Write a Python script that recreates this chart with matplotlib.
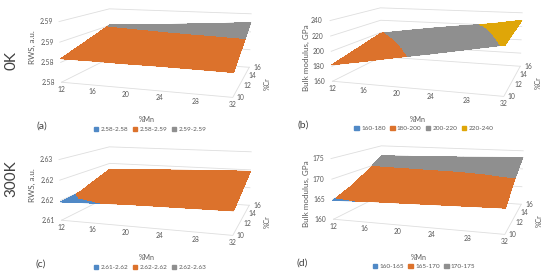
import matplotlib
matplotlib.use("Agg")
import matplotlib.pyplot as plt
from matplotlib.patches import Patch
from mpl_toolkits.mplot3d import proj3d
from mpl_toolkits.mplot3d.art3d import Poly3DCollection

plt.rcParams["font.family"] = ["Lato", "DejaVu Sans"]

W, H = 550, 277
BLUE, ORANGE, GRAY, YELLOW = "#5089c6", "#dc722c", "#8f8f8f", "#dfa608"
TXT = "#595959"
GRID = "#dedede"

MN = [12, 16, 20, 24, 28, 32]
CR = [10, 12, 14, 16]

# one row per %Cr, one column per %Mn
RWS_0K = [
    [2.5809, 2.5809, 2.5808, 2.5808, 2.5807, 2.5806],
    [2.5823, 2.5824, 2.5825, 2.5826, 2.5827, 2.5829],
    [2.5837, 2.5840, 2.5843, 2.5846, 2.5849, 2.5853],
    [2.5852, 2.5856, 2.5860, 2.5865, 2.5870, 2.5876],
]
BULK_0K = [
    [182.0, 189.5, 197.5, 205.0, 213.0, 221.0],
    [187.7, 195.0, 202.2, 209.0, 216.0, 223.7],
    [193.3, 200.2, 206.8, 213.0, 219.0, 226.3],
    [199.0, 205.5, 211.5, 217.0, 222.0, 229.0],
]
RWS_300K = [
    [2.6196, 2.6199, 2.6202, 2.6203, 2.6204, 2.6205],
    [2.6201, 2.6207, 2.6212, 2.6214, 2.6216, 2.6218],
    [2.6217, 2.6220, 2.6224, 2.6228, 2.6230, 2.6232],
    [2.6232, 2.6235, 2.6238, 2.6241, 2.6244, 2.6246],
]
BULK_300K = [
    [164.7, 165.1, 165.3, 165.5, 165.7, 165.9],
    [166.5, 166.8, 167.2, 167.6, 168.1, 168.8],
    [169.0, 169.3, 169.6, 169.8, 170.3, 171.2],
    [172.0, 172.2, 172.4, 172.6, 172.9, 173.2],
]

LEVELS_A = [2.575, 2.58, 2.585, 2.59]
LEVELS_B = [160, 180, 200, 220, 240]
LEVELS_C = [2.615, 2.62, 2.625, 2.63]
LEVELS_D = [160, 165, 170, 175]

TICKS_A = ["2.58", "2.58", "2.59", "2.59"]
TICKS_B = ["160", "180", "200", "220", "240"]
TICKS_C = ["2.61", "2.62", "2.62", "2.63"]
TICKS_D = ["160", "165", "170", "175"]

LEGEND_A = ["2.58-2.58", "2.58-2.59", "2.59-2.59"]
LEGEND_B = ["160-180", "180-200", "200-220", "220-240"]
LEGEND_C = ["2.61-2.62", "2.62-2.62", "2.62-2.63"]
LEGEND_D = ["160-165", "165-170", "170-175"]

COLORS = [BLUE, ORANGE, GRAY, YELLOW]


def clip(poly, lo, hi):
    # cut a polygon to the part with lo <= z <= hi
    for level, sign in ((lo, 1), (hi, -1)):
        out = []
        for i, p in enumerate(poly):
            q = poly[(i + 1) % len(poly)]
            dp, dq = sign * (p[2] - level), sign * (q[2] - level)
            if dp >= 0:
                out.append(p)
            if dp * dq < 0:
                t = dp / (dp - dq)
                out.append(tuple(a + t * (b - a) for a, b in zip(p, q)))
        poly = out
        if not poly:
            break
    return poly


def band_faces(vals, lo, hi):
    faces = []
    for j in range(len(CR) - 1):
        for i in range(len(MN) - 1):
            a = (MN[i], CR[j], vals[j][i])
            b = (MN[i + 1], CR[j], vals[j][i + 1])
            c = (MN[i + 1], CR[j + 1], vals[j + 1][i + 1])
            d = (MN[i], CR[j + 1], vals[j + 1][i])
            for tri in ([a, b, c], [a, c, d]):
                part = clip(tri, lo, hi)
                if len(part) > 2:
                    faces.append(part)
    return faces


def label(ax, x, y, z, text, dx, dy):
    px, py, _ = proj3d.proj_transform(x, y, z, ax.get_proj())
    ax.annotate(text, (px, py), xytext=(dx, dy), textcoords="offset pixels",
                ha="center", va="center", fontsize=4.9, color=TXT, annotation_clip=False)


def panel(fig, ox, oy, vals, levels, ticks, legend, ylabel, letter, leg_x, ylab_x, ylab_y, letter_x):
    size = 201.0
    left, top = 58.2 + ox, -51.6 + oy
    ax = fig.add_axes([left / W, 1 - (top + size) / H, size / W, size / H], projection="3d")
    ax.set_xlim(MN[0], MN[-1])
    ax.set_ylim(CR[0], CR[-1])
    ax.set_zlim(levels[0], levels[-1])
    ax.view_init(10.76, -72.6)
    ax.set_box_aspect((2.804, 1.987, 1))
    ax.set_proj_type("persp", focal_length=0.4248)
    ax.set_axis_off()
    ax.patch.set_visible(False)
    ax.computed_zorder = False

    for lev in levels:
        ax.plot([MN[0], MN[0], MN[-1]], [CR[0], CR[-1], CR[-1]], [lev, lev, lev],
                color=GRID, lw=0.6, zorder=1, clip_on=False)
    z0 = levels[0]
    ax.plot([MN[0], MN[-1], MN[-1]], [CR[0], CR[0], CR[-1]], [z0, z0, z0],
            color=GRID, lw=0.6, zorder=1, clip_on=False)

    for k in range(len(levels) - 1):
        faces = band_faces(vals, levels[k], levels[k + 1])
        if faces:
            # smooth outline underneath, plain fill on top hides the seams between faces
            ax.add_collection3d(Poly3DCollection(faces, facecolor=COLORS[k], edgecolor=COLORS[k],
                                                 linewidth=0.4, zorder=3, clip_on=False))
            ax.add_collection3d(Poly3DCollection(faces, facecolor=COLORS[k], edgecolor="none",
                                                 linewidth=0, antialiased=False, zorder=4, clip_on=False))

    for m in MN:
        label(ax, m, CR[0], z0, str(m), 0, -7)
    for c in CR:
        label(ax, MN[-1], c, z0, str(c), 8, 0)
    for lev, t in zip(levels, ticks):
        label(ax, MN[0], CR[0], lev, t, -13, 0)

    fig.text((147 + ox) / W, 1 - (120 + oy) / H, "%Mn", ha="center", va="center", fontsize=5, color=TXT)
    fig.text((267 + ox) / W, 1 - (84 + oy) / H, "%Cr", ha="center", va="center", rotation=90, fontsize=5, color=TXT)
    fig.text(ylab_x / W, 1 - ylab_y / H, ylabel, ha="center", va="center", rotation=90, fontsize=5.8, color=TXT)
    fig.text(letter_x / W, 1 - (126 + oy) / H, letter, ha="center", va="center", fontsize=7.5, color="#404040")

    handles = [Patch(color=c) for c in COLORS[:len(legend)]]
    fig.legend(handles, legend, loc="center", bbox_to_anchor=(leg_x / W, 1 - (129.5 + oy) / H),
               ncol=len(legend), frameon=False, fontsize=4.6, labelcolor=TXT,
               handlelength=0.7, handleheight=0.7, handletextpad=0.35, columnspacing=0.7,
               borderpad=0)
    return ax


def main():
    fig = plt.figure(figsize=(W / 100, H / 100), dpi=100)
    panel(fig, 0, 0, RWS_0K, LEVELS_A, TICKS_A, LEGEND_A, "RWS, a.u.", "(a)", 150, 32, 47, 42)
    panel(fig, 271, -1, BULK_0K, LEVELS_B, TICKS_B, LEGEND_B, "Bulk modulus, GPa", "(b)", 424, 306, 58, 303)
    panel(fig, 0, 138, RWS_300K, LEVELS_C, TICKS_C, LEGEND_C, "RWS, a.u.", "(c)", 150, 32, 185, 41)
    panel(fig, 272, 137, BULK_300K, LEVELS_D, TICKS_D, LEGEND_D, "Bulk modulus, GPa", "(d)", 424, 306, 194, 302)
    fig.text(11 / W, 1 - 61 / H, "0K", rotation=90, ha="center", va="center", fontsize=11, color="#404040")
    fig.text(11 / W, 1 - 179 / H, "300K", rotation=90, ha="center", va="center", fontsize=11, color="#404040")
    fig.savefig("out.png", dpi=100)


if __name__ == "__main__":
    main()
